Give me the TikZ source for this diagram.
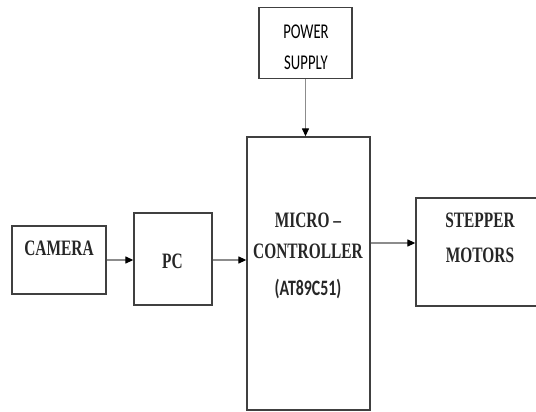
\documentclass[tikz,border=0pt]{standalone}
\usepackage{fontspec}
\usepackage{tikz}
\usetikzlibrary{arrows.meta, positioning, calc}

\newfontfamily\blkfont[FakeStretch=0.7]{Liberation Serif}
\newfontfamily\psfont[FakeStretch=0.7]{Carlito}
\newfontfamily\partfont[FakeStretch=0.72]{Carlito}

\begin{document}
\begin{tikzpicture}[
    x=1pt, y=-1pt,
    >=Stealth,
    blk/.style={draw=black!75, line width=1.3pt, rectangle, inner sep=0pt},
    blktext/.style={font=\blkfont\bfseries\fontsize{22}{31}\selectfont, text=black!85, align=center, inner sep=0pt},
    pstext/.style={font=\psfont\fontsize{21}{31}\selectfont, text=black, align=center, inner sep=0pt},
    arr/.style={draw=black!45, line width=1.2pt, -{Triangle[length=8pt, width=7pt, color=black]}},
]

\useasboundingbox (0,0) rectangle (536,412);

% --- Blocks ---
\node[blk, minimum width=93pt, minimum height=71pt] (power) at (305.5, 43) {};
\node[blk, minimum width=123pt, minimum height=273pt] (micro) at (308.5, 273.5) {};
\node[blk, minimum width=124pt, minimum height=108pt] (stepper) at (478, 252) {};
\node[blk, minimum width=94pt, minimum height=68pt] (camera) at (59, 260) {};
\node[blk, minimum width=78pt, minimum height=92pt] (pc) at (173, 259) {};

% --- Texts ---
\node[pstext] (powertxt) at (306, 47) {POWER\\SUPPLY};
\node[blktext] (microtxt) at (308, 256)
    {MICRO \textendash\\CONTROLLER\\[6pt]{\partfont\bfseries\fontsize{22}{31}\selectfont (AT89C51)}};
\node[blktext, font=\blkfont\bfseries\fontsize{22}{35}\selectfont] (steppertxt) at (480, 238) {STEPPER\\MOTORS};
\node[blktext] (cameratxt) at (59, 248) {CAMERA};
\node[blktext] (pctxt) at (172.5, 261.5) {PC};

% --- Connectors ---
\coordinate (stepin) at ($(stepper.west)+(0,-9)$);
\draw[arr] (power.south) -- (power.south |- micro.north);
\draw[arr] (camera.east) -- (camera.east -| pc.west);
\draw[arr] (pc.east |- camera.east) -- (camera.east -| micro.west);
\draw[arr] (micro.east |- stepin) -- (stepin);

\end{tikzpicture}
\end{document}
